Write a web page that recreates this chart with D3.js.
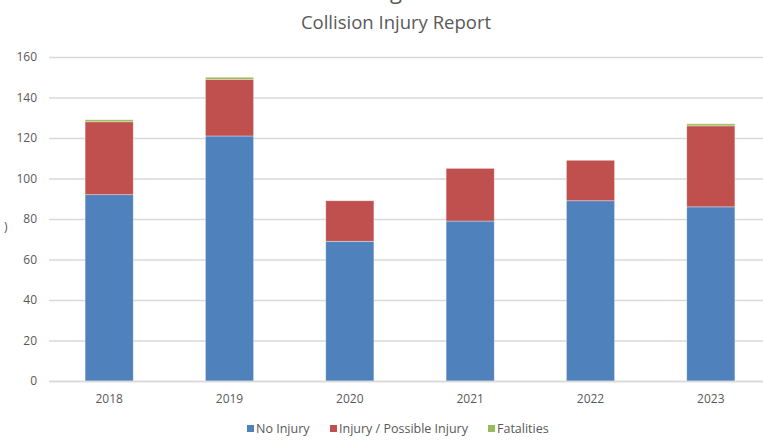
<!DOCTYPE html>
<html>
<head>
<meta charset="utf-8">
<script src="https://cdn.jsdelivr.net/npm/d3@7"></script>
<style>
  body { margin: 0; background: #fff; }
  svg { display: block; font-family: "Open Sans", sans-serif; }
</style>
</head>
<body>
<svg id="svg" width="763" height="441"></svg>
<script>
var years = ['2018', '2019', '2020', '2021', '2022', '2023'];
var noInjury = [92, 121, 69, 79, 89, 86];
var injury = [36, 28, 20, 26, 20, 40];
var fatalities = [1, 1, 0, 0, 0, 1];
var seriesNames = ['No Injury', 'Injury / Possible Injury', 'Fatalities'];
var yTicks = [0, 20, 40, 60, 80, 100, 120, 140, 160];

var colors = ['#4F81BD', '#C0504D', '#9BBB59'];
var svg = d3.select("#svg");

var plot = {left: 49, right: 771, top: 57, bottom: 381};

var rows = years.map(function(y, i) {
    return {Year: y, 'No Injury': noInjury[i], 'Injury / Possible Injury': injury[i], 'Fatalities': fatalities[i]};
});
var stacked = d3.stack().keys(seriesNames)(rows);

var yScale = d3.scaleLinear()
    .domain([0, 160])
    .range([plot.bottom, plot.top]);

var xScale = d3.scaleBand()
    .domain(years)
    .range([plot.left, plot.right])
    .paddingInner(0.6)
    .paddingOuter(0.3);

// cut-off bits of an upper title and the y axis title
svg.append("text")
    .attr("x", 396).attr("y", -1)
    .attr("text-anchor", "middle")
    .attr("font-size", 22)
    .attr("fill", "#595959")
    .text("g");
svg.append("text")
    .attr("x", 4).attr("y", 231)
    .attr("font-size", 12)
    .attr("fill", "#595959")
    .text(")");

// title
svg.append("text")
    .attr("x", 396)
    .attr("y", 29)
    .attr("text-anchor", "middle")
    .attr("font-size", 18.5)
    .attr("fill", "#595959")
    .text("Collision Injury Report");

// grid
var grid = svg.append("g")
    .attr("class", "grid")
    .attr("transform", "translate(" + plot.left + ",0)")
    .call(d3.axisLeft(yScale)
        .tickValues(yTicks)
        .tickSize(-(plot.right - plot.left))
        .tickFormat("")
    );
grid.select(".domain").remove();
grid.selectAll("line").attr("stroke", "#d9d9d9").attr("stroke-width", 1.3);

// y labels
var yAxis = svg.append("g")
    .attr("transform", "translate(" + plot.left + ",0)")
    .call(d3.axisLeft(yScale).tickValues(yTicks).tickSize(0).tickPadding(12));
yAxis.select(".domain").remove();
yAxis.selectAll("text")
    .attr("font-size", 12)
    .attr("font-family", "Open Sans, sans-serif")
    .attr("fill", "#595959");

// bars
svg.append("g").selectAll("g")
    .data(stacked)
    .enter().append("g")
    .attr("fill", function(d, i) { return colors[i]; })
    .selectAll("rect")
    .data(function(d) { return d; })
    .enter().append("rect")
    .attr("x", function(d) { return xScale(d.data.Year); })
    .attr("y", function(d) { return yScale(d[1]); })
    .attr("width", xScale.bandwidth())
    .attr("height", function(d) { return yScale(d[0]) - yScale(d[1]); })
    .attr("stroke", "#fff")
    .attr("stroke-opacity", 0.5)
    .attr("stroke-width", 0.7);

// x axis
var xAxis = svg.append("g")
    .attr("transform", "translate(0," + plot.bottom + ")")
    .call(d3.axisBottom(xScale).tickSize(0).tickPadding(13));
xAxis.select(".domain").attr("stroke", "#d9d9d9").attr("stroke-width", 1.3);
xAxis.selectAll("text")
    .attr("font-size", 12)
    .attr("font-family", "Open Sans, sans-serif")
    .attr("fill", "#595959");

// legend
var legendX = [247, 330, 488];
var legend = svg.append("g").selectAll("g")
    .data(seriesNames)
    .enter().append("g")
    .attr("transform", function(d, i) { return "translate(" + legendX[i] + ",433)"; });
legend.append("rect")
    .attr("x", 0).attr("y", -8)
    .attr("width", 7).attr("height", 7)
    .attr("fill", function(d, i) { return colors[i]; });
legend.append("text")
    .attr("x", 9)
    .attr("y", 0)
    .attr("font-size", 12.5)
    .attr("fill", "#595959")
    .text(function(d) { return d; });
</script>
</body>
</html>
